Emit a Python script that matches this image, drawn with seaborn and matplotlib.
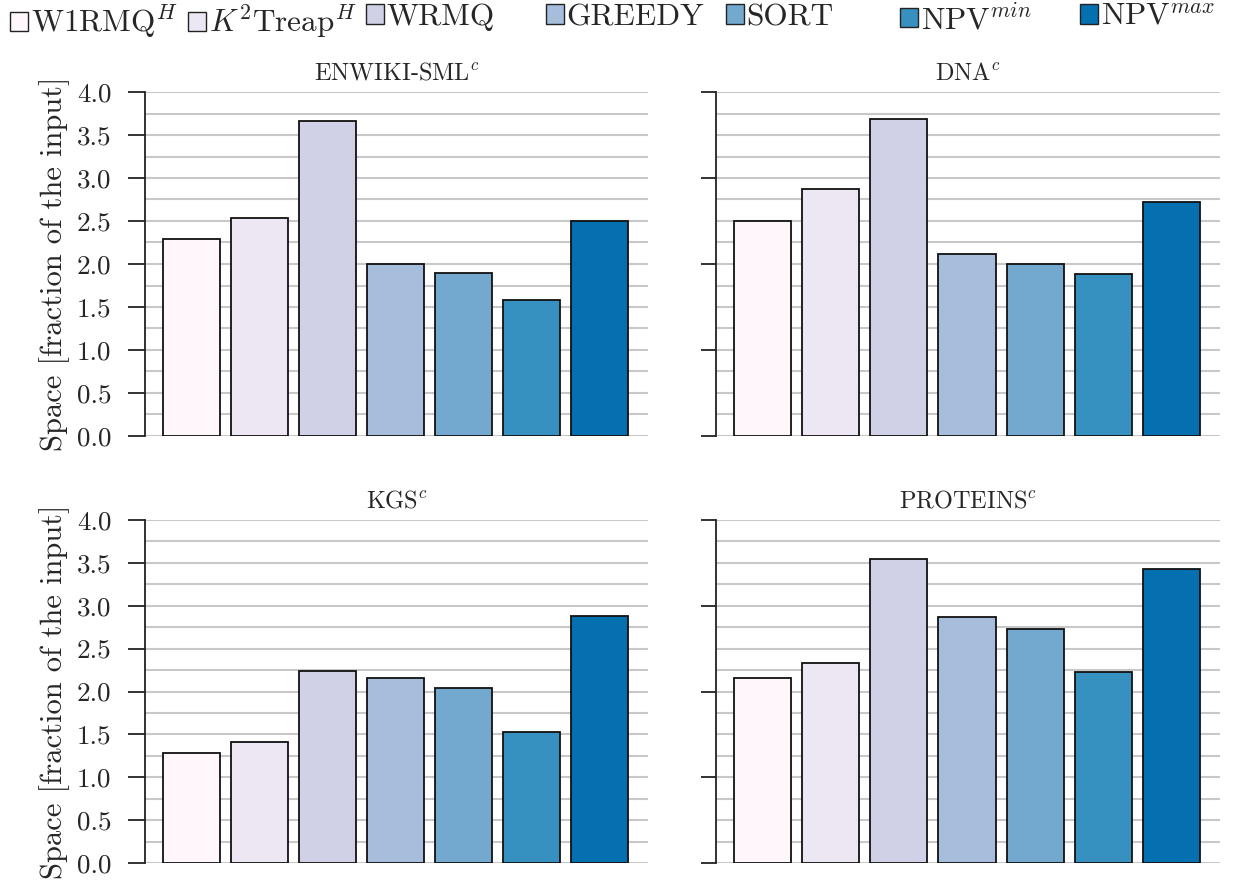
import matplotlib
matplotlib.use("Agg")
import matplotlib.pyplot as plt
import matplotlib.patches as mpatches
from matplotlib.ticker import MultipleLocator
import pandas as pd
import seaborn as sns

# Methods (legend order) and their fill colours
methods = ["W1RMQ$^H$", "$K^2$Treap$^H$", "WRMQ", "GREEDY", "SORT",
           "NPV$^{min}$", "NPV$^{max}$"]
colors = ["#fff7fb", "#ece7f2", "#d0d1e6", "#a6bddb", "#74a9cf",
          "#3690c0", "#0570b0"]

# Space usage per dataset, as a fraction of the input size
datasets = ["ENWIKI-SML$^c$", "DNA$^c$", "KGS$^c$", "PROTEINS$^c$"]
enwiki_sml = [2.29, 2.53, 3.66, 2.00, 1.90, 1.58, 2.50]
dna = [2.50, 2.87, 3.69, 2.12, 2.00, 1.88, 2.72]
kgs = [1.28, 1.41, 2.24, 2.16, 2.04, 1.53, 2.88]
proteins = [2.16, 2.33, 3.55, 2.87, 2.73, 2.23, 3.43]
series = [enwiki_sml, dna, kgs, proteins]

ylabel = "Space [fraction of the input]"
yticks = [0.0, 0.5, 1.0, 1.5, 2.0, 2.5, 3.0, 3.5, 4.0]

sns.set_theme(style="white")
plt.rcParams["font.family"] = ["cmr10", "DejaVu Serif"]
plt.rcParams["mathtext.fontset"] = "cm"
plt.rcParams["axes.formatter.use_mathtext"] = True

W, H = 1234, 888
fig = plt.figure(figsize=(W / 100, H / 100), dpi=100)

# panel boxes in pixels: (left, top, right, bottom)
boxes = [(145, 92, 648, 436), (716, 92, 1220, 436),
         (145, 520, 648, 863), (716, 520, 1220, 863)]

for i, (name, vals, (l, t, r, b)) in enumerate(zip(datasets, series, boxes)):
    ax = fig.add_axes([l / W, 1 - b / H, (r - l) / W, (b - t) / H])
    df = pd.DataFrame({"method": methods, "value": vals})
    sns.barplot(data=df, x="method", y="value", hue="method",
                palette=colors, hue_order=methods, order=methods,
                saturation=1, width=0.84, edgecolor="#111111", linewidth=1.3,
                legend=False, ax=ax, zorder=3)
    ax.set_xlim(-0.684, 6.713)
    ax.set_ylim(0, 4.0)
    ax.set_xticks([])
    ax.set_xlabel("")
    # light horizontal guides every 0.25
    ax.yaxis.set_minor_locator(MultipleLocator(0.25))
    ax.grid(axis="y", which="both", color="#c8c8c8", linewidth=1.5, zorder=0)
    ax.set_axisbelow(True)
    for s in ["top", "right", "bottom"]:
        ax.spines[s].set_visible(False)
    ax.spines["left"].set_color("#222222")
    ax.spines["left"].set_linewidth(1.3)
    ax.tick_params(axis="y", which="minor", length=0)
    if i % 2 == 0:
        ax.set_yticks(yticks)
        ax.set_yticklabels([f"{v:.1f}" for v in yticks])
        ax.tick_params(axis="y", which="major", direction="out", length=12,
                       width=1.3, color="#222222", labelsize=19.5, pad=12,
                       left=True)
        ax.set_ylabel(ylabel, fontsize=22, labelpad=5)
    else:
        ax.set_yticks([0, 1, 2, 3, 4])
        ax.tick_params(axis="y", which="major", direction="out", length=11,
                       width=1.3, color="#222222", labelleft=False, left=True)
        ax.set_ylabel("")
    ax.set_title(name, fontsize=17.5, pad=9)

# one legend entry per method, each anchored at its own left edge
legend_x = [10, 188, 366, 546, 726, 900, 1080]
for m, c, x in zip(methods, colors, legend_x):
    h = mpatches.Patch(facecolor=c, edgecolor="#222222", linewidth=1.0, label=m)
    fig.legend(handles=[h], loc="upper left",
               bbox_to_anchor=((x - 3) / W, 1.0), frameon=False,
               fontsize=22.5, handlelength=0.58, handleheight=0.58,
               handletextpad=0.08, borderaxespad=0.0, borderpad=0.1)

fig.savefig("out.png", dpi=100)
